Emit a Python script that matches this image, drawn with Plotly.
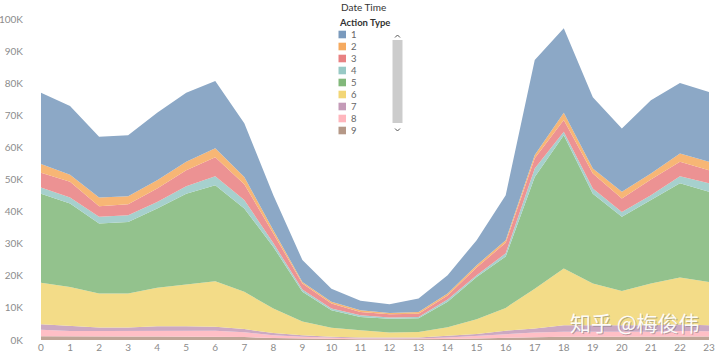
import plotly.graph_objects as go

hours = list(range(24))
action_types = ["1", "2", "3", "4", "5", "6", "7", "8", "9"]

# values per action type, per hour (counts)
type_1 = [22200, 21400, 18900, 19000, 21000, 21500, 21000, 16700, 10900, 6800, 4100, 2900,
          2700, 4200, 5700, 7800, 14000, 29600, 26300, 22200, 19700, 22800, 22000, 21800]
type_2 = [2700, 2200, 2700, 2500, 2600, 2600, 2800, 2300, 1000, 500, 500, 600,
          400, 500, 600, 700, 800, 1000, 2300, 1500, 2100, 1900, 2600, 2600]
type_3 = [4600, 4900, 3300, 3400, 4200, 5000, 5900, 4900, 3000, 1900, 1600, 1000,
          1000, 1000, 1300, 2400, 3300, 3200, 3600, 4700, 4200, 4900, 4500, 4100]
type_4 = [1900, 1900, 2100, 2100, 2000, 2300, 2800, 2600, 1200, 700, 500, 500,
          400, 400, 700, 600, 1000, 2600, 1100, 1600, 1500, 1500, 2200, 2600]
type_5 = [27800, 26000, 21800, 22300, 24700, 28200, 29900, 26000, 19200, 9200, 5500, 4200,
          4300, 4300, 7900, 13100, 16000, 34800, 41500, 28000, 23100, 26000, 29300, 28100]
type_6 = [12900, 12200, 10600, 10600, 12000, 13100, 14200, 11600, 7600, 4300, 2800, 2200,
          1600, 1700, 2700, 4600, 7100, 12400, 17700, 13000, 10900, 13000, 14700, 13500]
type_7 = [1700, 1500, 1100, 1100, 1400, 1400, 1200, 1000, 700, 500, 300, 300,
          250, 300, 500, 700, 1100, 1300, 2000, 2000, 1900, 2000, 2000, 1900]
type_8 = [2000, 1700, 1700, 1700, 1800, 1800, 1800, 1500, 900, 600, 400, 300,
          250, 300, 500, 700, 1100, 1400, 1600, 1600, 1500, 1600, 1700, 1600]
type_9 = [1200, 1100, 1100, 1100, 1100, 1100, 1100, 900, 600, 400, 300, 200,
          200, 200, 300, 500, 700, 900, 1000, 1000, 1000, 1000, 1100, 1100]

y_tick_vals = [0, 10000, 20000, 30000, 40000, 50000, 60000, 70000, 80000, 90000, 100000]
y_tick_text = ["0K", "10K", "20K", "30K", "40K", "50K", "60K", "70K", "80K", "90K", "100K"]

series = {
    "1": type_1, "2": type_2, "3": type_3, "4": type_4, "5": type_5,
    "6": type_6, "7": type_7, "8": type_8, "9": type_9,
}

base_colors = {
    "1": (78, 121, 167), "2": (242, 142, 43), "3": (225, 87, 89),
    "4": (118, 183, 178), "5": (89, 161, 79), "6": (237, 201, 72),
    "7": (176, 122, 161), "8": (255, 157, 167), "9": (156, 117, 95),
}
ALPHA = 0.65


def blend(rgb, a=ALPHA):
    r, g, b = (round(c * a + 255 * (1 - a)) for c in rgb)
    return f"rgb({r},{g},{b})"


W, H = 720, 354
L, R, T, B = 41, 11, 15, 14
PW, PH = W - L - R, H - T - B


def px(x):
    return (x - L) / PW


def py(y):
    return (H - B - y) / PH


fig = go.Figure()
for name in reversed(action_types):  # 9 at the bottom, 1 on top
    fig.add_trace(go.Scatter(
        x=hours, y=series[name], name=name, mode="lines",
        stackgroup="one", line=dict(width=0, color=blend(base_colors[name])),
        fillcolor=blend(base_colors[name]), showlegend=False, hoverinfo="skip",
    ))

font_family = "Lato, 'Open Sans', sans-serif"
shapes = []
annotations = []

# manual legend (Tableau-like)
annotations.append(dict(x=px(337), y=py(22.5), xref="paper", yref="paper", text="<b>Action Type</b>",
                        showarrow=False, xanchor="left", yanchor="middle",
                        font=dict(family=font_family, size=9.5, color="#333333")))
for i, name in enumerate(action_types):
    cy = 34.5 + 12 * i
    shapes.append(dict(type="rect", xref="paper", yref="paper",
                       x0=px(338.5), x1=px(346), y0=py(cy - 3.8), y1=py(cy + 3.8),
                       fillcolor=blend(base_colors[name], 0.75), line=dict(width=0)))
    annotations.append(dict(x=px(349), y=py(cy), xref="paper", yref="paper", text=name,
                            showarrow=False, xanchor="left", yanchor="middle",
                            font=dict(family=font_family, size=9.5, color="#666666")))
# scrollbar
shapes.append(dict(type="rect", xref="paper", yref="paper", x0=px(392.5), x1=px(402.5),
                   y0=py(123), y1=py(40), fillcolor="#cccccc", line=dict(width=0)))
shapes.append(dict(type="path", xref="paper", yref="paper",
                   path=f"M {px(395)},{py(37.5)} L {px(397.5)},{py(35)} L {px(400)},{py(37.5)}",
                   line=dict(color="#555555", width=1)))
shapes.append(dict(type="path", xref="paper", yref="paper",
                   path=f"M {px(395)},{py(128.5)} L {px(397.5)},{py(131)} L {px(400)},{py(128.5)}",
                   line=dict(color="#555555", width=1)))

# header
annotations.append(dict(x=px(363), y=py(7), xref="paper", yref="paper", text="Date Time",
                        showarrow=False, xanchor="center", yanchor="middle",
                        font=dict(family=font_family, size=10, color="#333333")))

# watermark
annotations.append(dict(x=px(636), y=py(323), xref="paper", yref="paper", text="知乎 @梅俊伟",
                        showarrow=False, xanchor="center", yanchor="middle",
                        font=dict(family="Noto Sans CJK SC", size=21, color="rgba(110,110,110,0.45)")))
annotations.append(dict(x=px(635), y=py(322), xref="paper", yref="paper", text="知乎 @梅俊伟",
                        showarrow=False, xanchor="center", yanchor="middle",
                        font=dict(family="Noto Sans CJK SC", size=21, color="rgba(255,255,255,0.95)")))

fig.update_layout(
    width=W, height=H,
    margin=dict(l=L, r=R, t=T, b=B, pad=0, autoexpand=False),
    paper_bgcolor="white", plot_bgcolor="white",
    showlegend=False,
    shapes=shapes, annotations=annotations,
    font=dict(family=font_family, size=10, color="#8c8c8c"),
    xaxis=dict(range=[0, 23], tickmode="array", tickvals=hours, ticktext=[str(h) for h in hours],
               showgrid=False, zeroline=False, showline=False, ticks="", automargin=False,
               tickfont=dict(size=10, color="#8c8c8c"), fixedrange=True),
    yaxis=dict(range=[0, 101250], tickmode="array", tickvals=y_tick_vals, ticktext=y_tick_text,
               showgrid=False, zeroline=False, showline=False, ticks="", automargin=False,
               ticklabelstandoff=17,
               tickfont=dict(size=10, color="#8c8c8c"), fixedrange=True),
)

fig.write_html("out.html")
